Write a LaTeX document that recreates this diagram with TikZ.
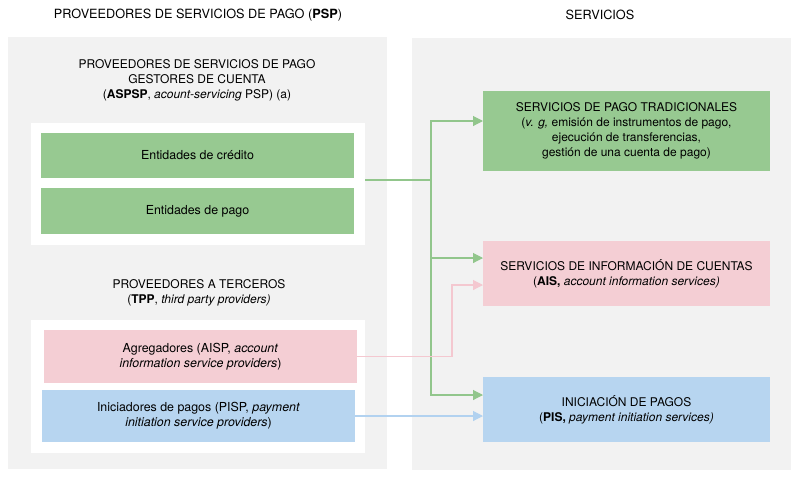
\documentclass[tikz,border=0pt]{standalone}
\usepackage{fontspec}
\setmainfont{TeX Gyre Heros}
\usetikzlibrary{arrows.meta,positioning,calc}
\definecolor{panelgrey}{RGB}{242,242,242}
\definecolor{fgreen}{RGB}{151,201,145}
\definecolor{fpink}{RGB}{244,206,212}
\definecolor{fblue}{RGB}{183,213,240}
\definecolor{lgreen}{RGB}{146,198,140}
\definecolor{lpink}{RGB}{244,200,208}
\definecolor{lblue}{RGB}{178,210,240}

\begin{document}
\begin{tikzpicture}[x=1pt, y=-1pt, every node/.style={font=\fontsize{12}{15}\selectfont, inner sep=0pt, outer sep=0pt, align=center},
			panel/.style={fill=panelgrey, minimum width=379pt, minimum height=432pt},
			wbox/.style={fill=white, minimum width=334pt},
			b/.style={minimum width=313pt, font=\fontsize{12.4}{15}\selectfont},
			s/.style={minimum width=287pt, minimum height=65pt},
			arr/.style={line width=1.1pt, -{Triangle[length=10pt,width=10pt]}}]
			\useasboundingbox (0,0) rectangle (812,483);
			\node[panel] (psp) at (197.5,253) {};
			\node[panel] (serv) at (601.5,253.5) {};
			\node[font=\fontsize{12.7}{15}\selectfont] (tpsp) at (198,15) {PROVEEDORES DE SERVICIOS DE PAGO (\textbf{PSP})};
			\node[font=\fontsize{12.7}{15}\selectfont] (tserv) at (600,15) {SERVICIOS};
			% gestores de cuenta
			\node (haspsp) at (197,80) {PROVEEDORES DE SERVICIOS DE PAGO\\GESTORES DE CUENTA\\(\textbf{ASPSP}, \textit{acount-servicing} PSP) (a)};
			\node[wbox, minimum height=122pt] (aspsp) at (198,184) {};
			\node[b, fill=fgreen, minimum height=45pt] (cred) at (197.5,155.5) {Entidades de crédito};
			\node[b, fill=fgreen, minimum height=46pt] (epago) at (197.5,211) {Entidades de pago};
			% terceros
			\node (htpp) at (199,292.5) {PROVEEDORES A TERCEROS\\(\textbf{TPP}, \textit{third party providers)}};
			\node[wbox, minimum height=133pt] (tpp) at (198,386.5) {};
			\node[b, fill=fpink, minimum height=53pt] (aisp) at (200.5,356.5) {Agregadores (AISP, \textit{account}\\\textit{information service providers})};
			\node[b, fill=fblue, minimum height=52pt] (pisp) at (198.5,416) {Iniciadores de pagos (PISP, \textit{payment}\\\textit{initiation service providers})};
			% servicios
			\node[s, fill=fgreen, minimum height=80pt] (trad) at (626.5,131) {SERVICIOS DE PAGO TRADICIONALES\\(\textit{v. g,} emisión de instrumentos de pago,\\ejecución de transferencias,\\gestión de una cuenta de pago)};
			\node[s, fill=fpink] (ais) at (626.5,273.5) {SERVICIOS DE INFORMACIÓN DE CUENTAS\\(\textbf{AIS,} \textit{account information services)}};
			\node[s, fill=fblue] (pis) at (626.5,409.5) {INICIACIÓN DE PAGOS\\(\textbf{PIS,} \textit{payment initiation services)}};
			% conectores
			\coordinate (split) at (431,180);
			\draw[lgreen, line width=1.1pt] (aspsp.east |- split) -- (split);
			\foreach \t/\dy in {trad/-10, ais/-15.5, pis/-14.5}
				\draw[arr, lgreen] (split) |- ($(\t.west)+(0,\dy)$);
			\draw[arr, lpink] (aisp.east) -- ++(95,0) |- ($(ais.west)+(0,11.5)$);
			\draw[arr, lblue] (pisp.east) -- (pisp.east -| pis.west);
		\end{tikzpicture}
\end{document}
